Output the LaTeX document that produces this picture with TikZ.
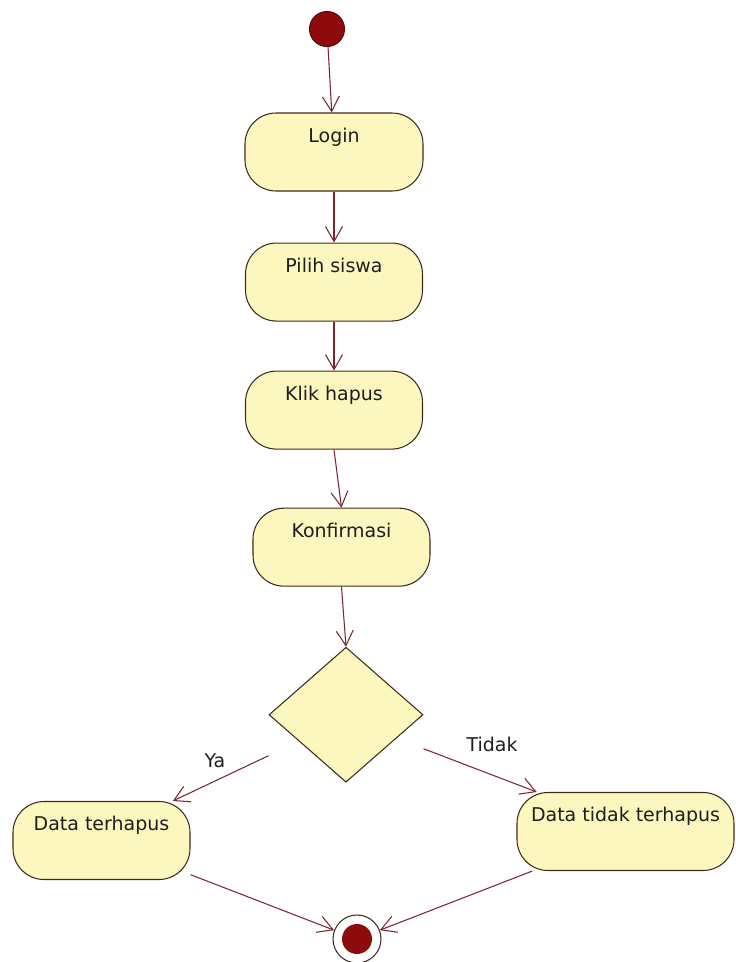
\documentclass[tikz,border=0pt]{standalone}
\usepackage{fontspec}
\setmainfont{DejaVu Sans}
\usetikzlibrary{arrows.meta,positioning,shapes.geometric}
\definecolor{ActFill}{HTML}{FCF7BF}
\definecolor{ActLine}{HTML}{3F2A1E}
\definecolor{Flow}{HTML}{7A2630}
\definecolor{Dot}{HTML}{8E0B0B}
\definecolor{DotLine}{HTML}{5C0A0A}
\definecolor{Ink}{HTML}{1E1E1E}
\tikzset{
  activity/.style={draw=ActLine,fill=ActFill,line width=.6pt,rounded corners=.62cm,inner xsep=0pt,inner ysep=0pt,text height=.58cm,text depth=.98cm,align=center,text=Ink,font=\fontsize{10.8}{13}\selectfont},
  decision/.style={diamond,draw=ActLine,fill=ActFill,line width=.6pt,minimum width=3.08cm,minimum height=2.7cm,inner sep=0pt},
  initial/.style={circle,draw=DotLine,fill=Dot,line width=.6pt,minimum size=.7cm,inner sep=0pt},
  final/.style={circle,draw=ActLine,fill=white,line width=.6pt,minimum size=.96cm,inner sep=0pt,path picture={\fill[Dot] (path picture bounding box.center) circle (.3cm);}},
  guard/.style={text=Ink,font=\fontsize{10.8}{13}\selectfont,inner sep=1pt},
  flow/.style={-{Straight Barb[length=3mm,width=3.4mm]},draw=Flow,line width=.6pt}
}
\begin{document}
\begin{tikzpicture}[node distance=1.02cm]
        \useasboundingbox (0,0) rectangle (14.72,-19.24);
        \node[initial] (start) at (6.54,-.58) {};
        \node[activity,minimum width=3.56cm] (login) at (6.68,-3.04) {Login};
        \node[activity,minimum width=3.54cm,below=of login] (pilih) {Pilih siswa};
        \node[activity,minimum width=3.54cm,below=.98cm of pilih] (klik) {Klik hapus};
        \node[activity,minimum width=3.54cm,below=1.16cm of klik,xshift=.15cm] (konfirmasi) {Konfirmasi};
        \node[decision,below=1.2cm of konfirmasi,xshift=.09cm] (cabang) {};
        \node[activity,minimum width=3.54cm] (terhapus) at (2.03,-16.81) {Data terhapus};
        \node[activity,minimum width=4.34cm] (tidakterhapus) at (12.51,-16.63) {Data tidak terhapus};
        \node[final] (selesai) at (7.14,-18.78) {};
        \node[guard] (ya) at (4.30,-15.22) {Ya};
        \node[guard] (tidak) at (9.84,-14.88) {Tidak};
        \draw[flow] (start) -- (login);
        \draw[flow] (login) -- (pilih);
        \draw[flow] (pilih) -- (klik);
        \draw[flow] (klik.south) -- (konfirmasi.north);
        \draw[flow] (konfirmasi.south) -- (cabang.north);
        \draw[flow] ([yshift=-.82cm]cabang.west) -- (terhapus.29);
        \draw[flow] ([yshift=-.68cm]cabang.east) -- (tidakterhapus.156);
        \draw[flow] (terhapus.-21) -- (selesai);
        \draw[flow] (tidakterhapus.203) -- (selesai);
      \end{tikzpicture}
\end{document}
